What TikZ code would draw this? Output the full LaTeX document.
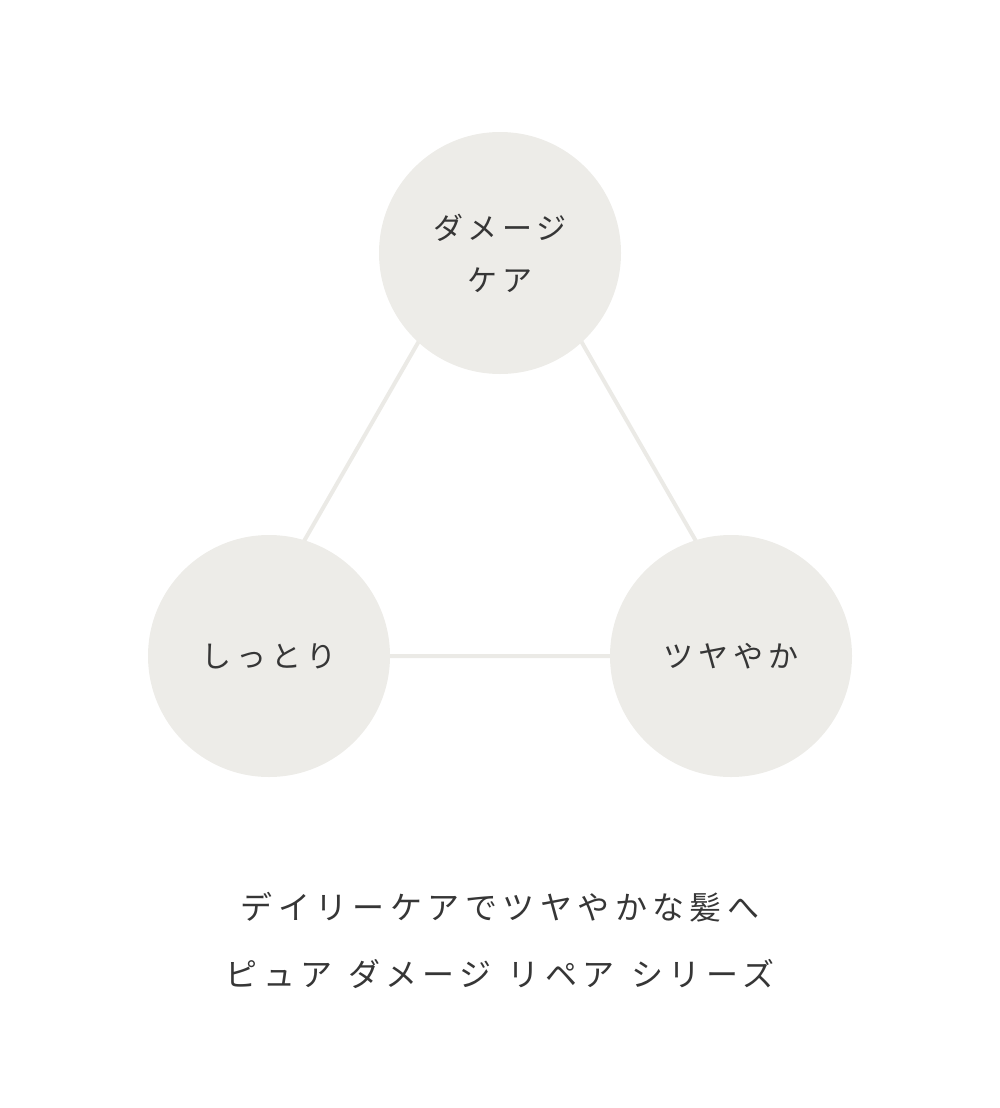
\documentclass[tikz,border=0pt]{standalone}
\usepackage{fontspec}
\newfontfamily\jpfont{Noto Sans CJK JP}[LetterSpace=17]
\usepackage{xcolor}
\definecolor{circlegray}{HTML}{EDECE8}
\definecolor{linegray}{HTML}{EBEAE6}
\definecolor{textgray}{HTML}{363636}
\newcommand{\wordgap}{\ \hspace{4pt}}
\tikzset{
  keyword/.style={circle,fill=circlegray,minimum size=242pt,inner sep=0pt,
    text=textgray,align=center,font={\jpfont\fontsize{30}{52}\selectfont}},
  link/.style={draw=linegray,line width=4pt}
}

\begin{document}
\begin{tikzpicture}[x=1pt,y=-1pt]
\useasboundingbox (0,0) rectangle (1000,1108);
\coordinate (T) at (500,253);
\coordinate (L) at (269,656);
\coordinate (R) at (731,656);
% triangle behind the circles
\coordinate (apex) at (500,200);
\coordinate (bl) at (238,656);
\coordinate (br) at (762,656);
\draw[link] (apex) -- (bl) -- (br) -- cycle;
\node[keyword] (care) at (T) {ダメージ\\ケア};
\node[keyword] (moist) at (L) {しっとり};
\node[keyword] (gloss) at (R) {ツヤやか};
\node[text=textgray,align=center,font={\jpfont\fontsize{32}{67}\selectfont}] (slogan) at (500,940)
  {デイリーケアでツヤやかな髪へ\\ピュア\wordgap ダメージ\wordgap リペア\wordgap シリーズ};
\end{tikzpicture}
\end{document}
